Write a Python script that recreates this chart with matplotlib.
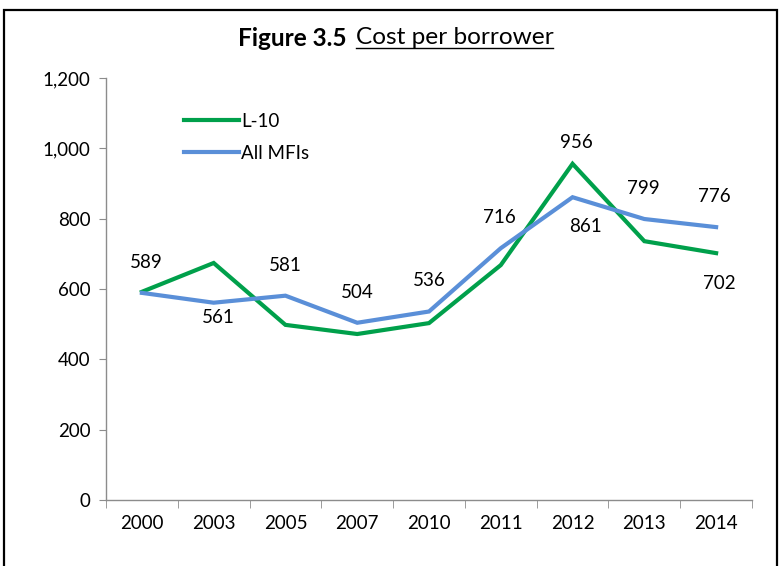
import matplotlib
matplotlib.use("Agg")
import matplotlib.pyplot as plt
from matplotlib.patches import Rectangle
from matplotlib.lines import Line2D

plt.rcParams['font.family'] = ['Lato', 'DejaVu Sans']

years = ["2000", "2003", "2005", "2007", "2010", "2011", "2012", "2013", "2014"]
l10 = [592, 674, 498, 472, 503, 668, 956, 736, 702]
all_mfis = [589, 561, 581, 504, 536, 716, 861, 799, 776]

# value-label placement per point: (dx, dy) offset in points
l10_labels = {6: (3, 15), 8: (2, -22)}
mfi_labels = {0: (3, 22), 1: (3, -11), 2: (0, 22), 3: (0, 22), 4: (0, 22),
              5: (-1, 22), 6: (9, -21), 7: (-1, 22), 8: (-1, 22)}

green = "#00A04B"
blue = "#5A8FD8"
axis_grey = "#8C8C8C"
fs = 13.5

fig = plt.figure(figsize=(7.8, 5.66), dpi=100)
ax = fig.add_axes([106 / 780, 1 - 500 / 566, 646 / 780, 422 / 566])

x = list(range(len(years)))
ax.plot(x, l10, color=green, lw=3.0, solid_joinstyle="miter", label="L-10", zorder=3)
ax.plot(x, all_mfis, color=blue, lw=3.0, solid_joinstyle="miter", label="All MFIs", zorder=4)

for i, (dx, dy) in mfi_labels.items():
    ax.annotate(f"{all_mfis[i]}", (i, all_mfis[i]), xytext=(dx, dy),
                textcoords="offset points", ha="center", va="center", fontsize=fs)
for i, (dx, dy) in l10_labels.items():
    ax.annotate(f"{l10[i]}", (i, l10[i]), xytext=(dx, dy),
                textcoords="offset points", ha="center", va="center", fontsize=fs)

ax.set_xlim(-0.5, len(years) - 0.5)
ax.set_ylim(0, 1200)
ax.set_yticks(range(0, 1201, 200))
ax.set_yticklabels([f"{v:,}" for v in range(0, 1201, 200)])
ax.set_xticks(x)
ax.set_xticklabels(years)
ax.set_xticks([i - 0.5 for i in range(len(years) + 1)], minor=True)
ax.tick_params(axis="x", which="major", length=0, pad=11, labelsize=fs)
ax.tick_params(axis="x", which="minor", length=6, color=axis_grey, direction="out")
ax.tick_params(axis="y", length=5, color=axis_grey, direction="out", pad=6, labelsize=fs)

for s in ("top", "right"):
    ax.spines[s].set_visible(False)
for s in ("left", "bottom"):
    ax.spines[s].set_color(axis_grey)
    ax.spines[s].set_linewidth(1.0)

ax.legend(loc="upper left", bbox_to_anchor=(0.095, 0.958), frameon=False,
          fontsize=fs, handlelength=2.9, handletextpad=0.15, labelspacing=0.8)

# outer frame of the figure
fig.patches.append(Rectangle((4 / 780, -0.05), 773 / 780, 1 - 10 / 566 + 0.05,
                             transform=fig.transFigure, fill=False,
                             edgecolor="black", lw=1.6))

# title: bold figure number followed by an underlined caption
tfs = 17.6
t1 = fig.text(238 / 780, 1 - 38 / 566, "Figure 3.5", fontsize=tfs, fontweight="bold",
              ha="left", va="center")
fig.canvas.draw()
r = fig.canvas.get_renderer()
bb = t1.get_window_extent(r)
x2 = (bb.x1 + 9) / 780
t2 = fig.text(x2, 1 - 38 / 566, "Cost per borrower", fontsize=tfs, ha="left", va="center")
fig.canvas.draw()
bb2 = t2.get_window_extent(r)
uy = (bb2.y0 + 1) / 566
fig.add_artist(Line2D([bb2.x0 / 780, bb2.x1 / 780], [uy, uy], color="black",
                      lw=1.0, transform=fig.transFigure))

fig.savefig("out.png", dpi=100)
